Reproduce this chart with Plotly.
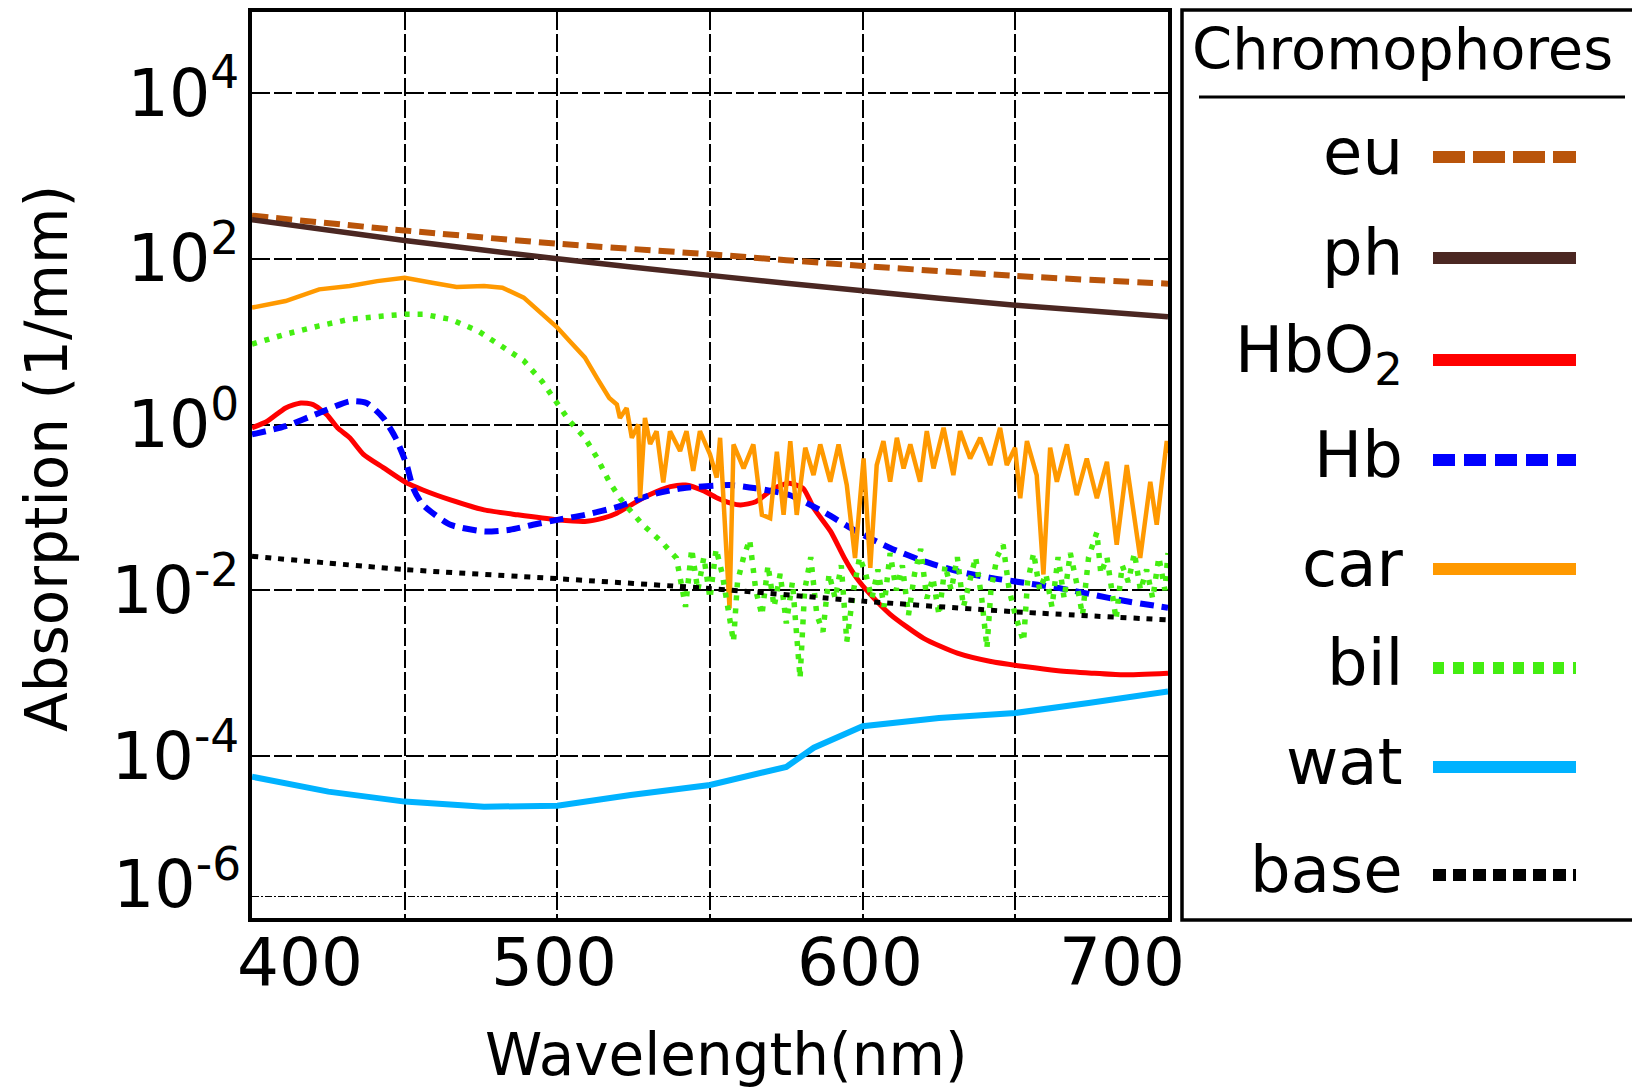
import plotly.graph_objects as go

# ---------------- data ----------------
WL_MEL = [400, 450, 500, 550, 600, 650, 700]
EU = [331, 219, 152, 113, 82, 62, 50]
PH = [295, 166, 100, 63, 41, 27.5, 20]
BASE = [0.0257, 0.0178, 0.0138, 0.0105, 0.0074, 0.0055, 0.0044]

WL_HBO2 = [400, 405, 411, 416, 420, 424.5, 428, 432, 436.5, 443, 450, 456, 465, 476, 487,
           500, 509, 515, 519.5, 525, 530, 537, 542, 548, 552, 557, 560, 565, 571, 576,
           580.5, 584, 589.5, 594, 598, 602.5, 609, 620, 631, 642, 653, 664, 675, 685, 700]
HBO2 = [0.912, 1.096, 1.585, 1.82, 1.738, 1.318, 0.912, 0.692, 0.437, 0.302, 0.204, 0.162,
        0.123, 0.0933, 0.0813, 0.0708, 0.0676, 0.0741, 0.0851, 0.112, 0.141, 0.178, 0.186,
        0.158, 0.132, 0.112, 0.107, 0.117, 0.170, 0.195, 0.170, 0.0977, 0.0513, 0.0245,
        0.0141, 0.00891, 0.00513, 0.00263, 0.00174, 0.00138, 0.00120, 0.00107, 0.00100,
        0.000955, 0.00100]

WL_HB = [400, 411, 422, 432, 437.5, 443, 447, 450.6, 452.8, 456, 465, 476, 484.5, 492, 500,
         509, 520, 530.5, 541, 556.5, 565, 576, 587, 598, 609, 620, 631, 642, 653, 664, 675,
         686, 700]
HB = [0.759, 0.955, 1.38, 1.905, 1.82, 1.20, 0.692, 0.331, 0.170, 0.107, 0.0617, 0.0513,
      0.0537, 0.0617, 0.0708, 0.0813, 0.102, 0.141, 0.170, 0.186, 0.170, 0.141, 0.0891,
      0.0513, 0.0324, 0.0224, 0.0170, 0.0141, 0.0123, 0.0107, 0.00891, 0.00741, 0.00617]

WL_CAR = [400, 411, 422, 432, 441, 450, 459, 467, 476, 482, 489, 495, 500, 504, 509, 513,
          517, 519.5, 520.5, 522.7, 524.4, 526.5, 527.1, 528.7, 530.4, 532.5, 534.7, 536.9,
          540.2, 542.3, 544.5, 546.7, 550, 552.2, 553.3, 556.4, 557.7, 561, 564.2, 567,
          569.7, 571.9, 574.1, 576.3, 578.4, 581.2, 583.9, 586.1, 589.4, 592.1, 594.8,
          597.5, 600.3, 602.5, 604.6, 606.8, 609, 611.2, 613.4, 615.6, 618.8, 621, 623.2,
          626.5, 629.7, 631.9, 635.2, 638.5, 641.8, 645, 647.2, 649.9, 651.6, 653.8, 657,
          659.2, 661.4, 663.6, 666.9, 670.1, 673.4, 676.7, 680, 683.2, 686.5, 690.9, 694.2,
          696.3, 698.5, 699.6, 700]
CAR = [25.7, 30.9, 42.7, 46.8, 53.7, 58.9, 51.3, 45.7, 46.8, 44.7, 33.9, 21.4, 14.8, 10.2,
       6.46, 3.63, 2.09, 1.74, 1.20, 1.58, 0.69, 1.0, 0.129, 1.2, 0.58, 0.83, 0.20, 0.83,
       0.479, 0.832, 0.275, 0.832, 0.437, 0.229, 0.692, 0.00603, 0.575, 0.295, 0.575,
       0.0813, 0.0741, 0.468, 0.0813, 0.631, 0.0813, 0.525, 0.245, 0.575, 0.204, 0.575,
       0.186, 0.0245, 0.389, 0.0186, 0.324, 0.631, 0.204, 0.692, 0.295, 0.575, 0.204,
       0.832, 0.295, 0.912, 0.245, 0.832, 0.389, 0.692, 0.324, 0.912, 0.324, 0.525, 0.129,
       0.631, 0.245, 0.0155, 0.525, 0.204, 0.575, 0.141, 0.389, 0.129, 0.355, 0.0355,
       0.324, 0.0245, 0.204, 0.0617, 0.324, 0.631, 0.45]

WL_BIL = [400, 411, 422, 432, 443, 450, 456, 465, 474, 481, 489, 495, 500, 504, 509, 513,
          517, 520.5, 523, 528, 534, 539, 542, 544, 546, 548, 550, 552, 554, 556, 557.7,
          559, 561, 563, 565, 567, 569, 571, 573, 575, 577, 579.5, 581, 583, 585, 587, 589,
          591, 593, 594.8, 597, 599, 601, 603, 605, 607, 609, 611, 613, 615, 617, 619, 621,
          623, 625, 627, 629, 631, 633, 635, 637, 639, 640.7, 642, 644, 646, 648, 650,
          652.7, 654, 656, 658, 660, 662, 664, 666, 668, 670, 672, 674, 676.7, 678, 680,
          682, 683, 685, 687, 689, 691, 693, 695, 697, 699, 700]
BIL = [9.33, 12.3, 15.5, 18.6, 20.4, 21.4, 21.4, 18.6, 13.5, 9.33, 5.89, 3.31, 1.74, 1.10,
       0.692, 0.398, 0.204, 0.129, 0.100, 0.0617, 0.0389, 0.0245, 0.00631, 0.0316, 0.0100,
       0.0251, 0.00794, 0.0316, 0.0158, 0.00631, 0.0024, 0.0126, 0.0251, 0.0407, 0.0100,
       0.00501, 0.0200, 0.00631, 0.0158, 0.00398, 0.0126, 0.00087, 0.0100, 0.0251,
       0.00501, 0.00316, 0.0158, 0.00794, 0.0200, 0.0024, 0.0100, 0.0251, 0.0158, 0.00794,
       0.0178, 0.00631, 0.0282, 0.0100, 0.0200, 0.00501, 0.0158, 0.0316, 0.00794, 0.0141,
       0.00501, 0.0200, 0.0100, 0.0251, 0.00631, 0.0126, 0.0251, 0.00794, 0.0020, 0.0100,
       0.0251, 0.0355, 0.0100, 0.00501, 0.0024, 0.0126, 0.0282, 0.0100, 0.0158, 0.00631,
       0.0251, 0.00794, 0.0282, 0.0126, 0.00501, 0.0251, 0.0501, 0.0158, 0.0251, 0.00794,
       0.00447, 0.0200, 0.0126, 0.0282, 0.0100, 0.0178, 0.00794, 0.0251, 0.0100, 0.0282]

WL_WAT = [400, 425, 450, 476, 500, 524, 550, 575, 584, 600, 625, 650, 674, 700]
WAT = [5.62e-5, 3.72e-5, 2.82e-5, 2.45e-5, 2.51e-5, 3.39e-5, 4.47e-5, 7.41e-5, 1.26e-4,
       2.29e-4, 2.88e-4, 3.31e-4, 4.37e-4, 6.03e-4]

LABELS = ["eu", "ph", "HbO<sub>2</sub>", "Hb", "car", "bil", "wat", "base"]
X_GRID = [400, 450, 500, 550, 600, 650, 700]
X_LABELS = [400, 500, 600, 700]
Y_TICKS = [1e4, 1e2, 1, 1e-2, 1e-4]
Y_TICKTEXT = ["10<sup>4</sup>", "10<sup>2</sup>", "10<sup>0</sup>", "10<sup>-2</sup>",
              "10<sup>-4</sup>"]

# ---------------- styles ----------------
COLORS = ["#b9540a", "#4b2722", "#ff0000", "#0000ff", "#ff9900", "#44ee11", "#00b2ff", "#000000"]
WIDTHS = [6, 5.5, 5, 6, 4.5, 5.5, 6, 5]
DASHES = ["16px,8px", "solid", "solid", "14px,8px", "solid", "5px,8px", "solid", "6px,7px"]
LEG_DASHES = ["32px,8px", "solid", "solid", "22px,9px", "solid", "11px,9px", "solid", "13px,7px"]
SHAPES = ["spline", "spline", "spline", "spline", "linear", "linear", "linear", "spline"]

DATA = [(WL_MEL, EU), (WL_MEL, PH), (WL_HBO2, HBO2), (WL_HB, HB), (WL_CAR, CAR),
        (WL_BIL, BIL), (WL_WAT, WAT), (WL_MEL, BASE)]

FONT = "DejaVu Sans"
fig = go.Figure()
for i, (xs, ys) in enumerate(DATA):
    fig.add_trace(go.Scatter(
        x=xs, y=ys, mode="lines", name=LABELS[i], showlegend=False,
        line=dict(color=COLORS[i], width=WIDTHS[i], dash=DASHES[i], shape=SHAPES[i],
                  smoothing=0.6 if SHAPES[i] == "spline" else None)))

# page body has an 8px default margin; the figure is sized to fill the window exactly
OFF = 8
W, H = 1640 - OFF, 1091 - OFF
ML, MT = 252 - OFF, 12 - OFF
MR = W - (1168 - OFF)
MB = H - (918 - OFF)
PW, PH_ = W - ML - MR, H - MT - MB


def px_x(px):
    return (px - OFF - ML) / PW


def px_y(py):
    return (H - MB - (py - OFF)) / PH_


grid = dict(showgrid=True, gridcolor="black", gridwidth=2, griddash="18px,4px",
            showline=True, linecolor="black", linewidth=3.5, mirror=True, zeroline=False)

fig.update_xaxes(range=[400, 700], tickmode="array", tickvals=X_GRID,
                 showticklabels=False, ticks="", **grid)
fig.update_yaxes(type="log", range=[-5.954, 4.977], tickmode="array", tickvals=Y_TICKS,
                 ticktext=Y_TICKTEXT, ticks="", ticklabelstandoff=-4,
                 tickfont=dict(family=FONT, size=65, color="black"),
                 minor=dict(tickmode="array", tickvals=[10 ** -5.7], showgrid=True,
                            gridcolor="black", gridwidth=1, griddash="7px,2px,2px,2px"),
                 **grid)

ann = []
# x tick labels
for v in X_LABELS:
    if v == X_LABELS[0]:
        xa, xs = "left", -17
    elif v == X_LABELS[-1]:
        xa, xs = "right", 19
    else:
        xa, xs = "center", -3
    ann.append(dict(x=v, xref="x", y=px_y(963), yref="paper", text=str(v), showarrow=False,
                    xanchor=xa, yanchor="middle", xshift=xs,
                    font=dict(family=FONT, size=66, color="black")))
# bottom y label
ann.append(dict(x=0, xref="paper", y=-5.5, yref="y", text="10<sup>-6</sup>", showarrow=False,
                xanchor="right", yanchor="middle", xshift=-9,
                font=dict(family=FONT, size=65, color="black")))
# axis titles
ann.append(dict(x=px_x(726), xref="paper", y=px_y(1055), yref="paper", text="Wavelength(nm)",
                showarrow=False, xanchor="center", yanchor="middle",
                font=dict(family=FONT, size=58, color="black")))
ann.append(dict(x=px_x(47), xref="paper", y=px_y(459), yref="paper", text="Absorption (1/mm)",
                showarrow=False, xanchor="center", yanchor="middle", textangle=-90,
                font=dict(family=FONT, size=58, color="black")))
# legend title
ann.append(dict(x=px_x(1190), xref="paper", y=px_y(50), yref="paper", text="Chromophores",
                showarrow=False, xanchor="left", yanchor="middle",
                font=dict(family=FONT, size=57.5, color="black")))

shapes = [
    dict(type="rect", xref="paper", yref="paper", x0=px_x(1182), x1=px_x(1680),
         y0=px_y(920), y1=px_y(10), line=dict(color="black", width=3.5)),
    dict(type="line", xref="paper", yref="paper", x0=px_x(1199), x1=px_x(1625),
         y0=px_y(97), y1=px_y(97), line=dict(color="black", width=3)),
]
ROWS = [157, 258, 360, 460, 569, 668, 767, 875]
for i, lab in enumerate(LABELS):
    ann.append(dict(x=px_x(1405), xref="paper", y=px_y(ROWS[i]), yref="paper", text=lab,
                    showarrow=False, xanchor="right", yanchor="middle", yshift=5,
                    font=dict(family=FONT, size=64, color="black")))
    shapes.append(dict(type="line", xref="paper", yref="paper", x0=px_x(1433), x1=px_x(1576),
                       y0=px_y(ROWS[i]), y1=px_y(ROWS[i]),
                       line=dict(color=COLORS[i], width=12, dash=LEG_DASHES[i])))

fig.update_layout(width=W, height=H, margin=dict(l=ML, r=MR, t=MT, b=MB, autoexpand=False),
                  paper_bgcolor="white", plot_bgcolor="white", showlegend=False,
                  annotations=ann, shapes=shapes, font=dict(family=FONT, color="black"))

fig.write_html("out.html")
